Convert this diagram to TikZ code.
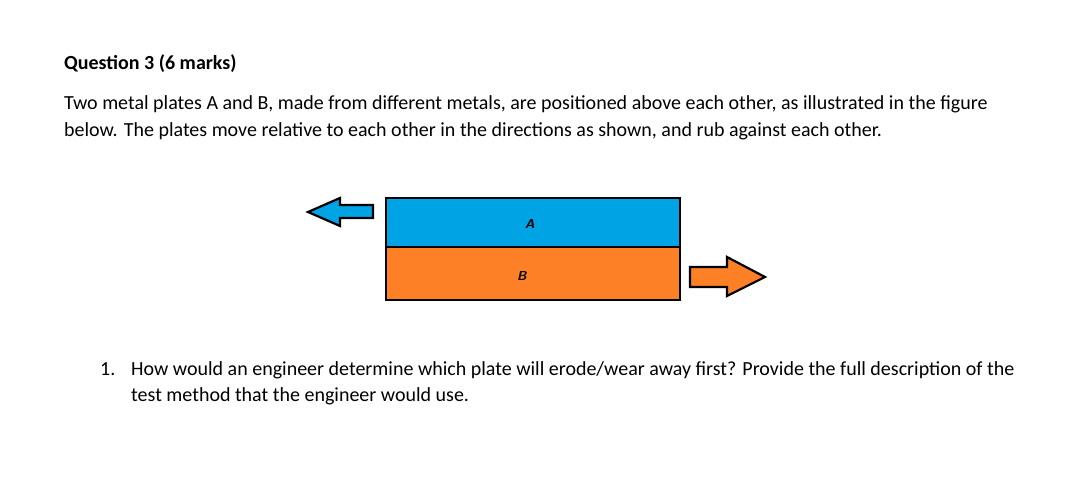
\documentclass[tikz,border=0pt]{standalone}
\usepackage{fontspec}
\setmainfont{Carlito}
\definecolor{plateA}{RGB}{0,163,228}
\definecolor{plateB}{RGB}{253,128,39}
\begin{document}
\begin{tikzpicture}[x=1pt,y=-1pt,
  txt/.style={anchor=base west,inner sep=0pt,font=\fontsize{20}{24}\selectfont},
  plate/.style={draw=black,line width=2.2pt},
  lbl/.style={font=\bfseries\itshape\sffamily\fontsize{13}{15}\selectfont}]
\useasboundingbox (0,0) rectangle (1080,478);
\node[txt,font=\bfseries\fontsize{20}{24}\selectfont] (title) at (64,70) {Question 3 (6 marks)};
\node[txt] (l1) at (64,110) {Two metal plates A and B, made from different metals, are positioned above each other, as illustrated in the figure};
\node[txt] (l2) at (64,137) {below. The plates move relative to each other in the directions as shown, and rub against each other.};
\draw[plate,fill=plateA] (386,198) rectangle (680,247);
\draw[plate,fill=plateB] (386,247) rectangle (680,300);
\node[lbl] (a) at (530,224) {A};
\node[lbl] (b) at (522,276) {B};
\draw[plate,fill=plateA,line join=miter] (373,205) -- (340,205) -- (340,198) -- (308,212) -- (340,226) -- (340,218) -- (373,218) -- cycle;
\draw[plate,fill=plateB,line join=miter] (690,267) -- (727,267) -- (727,257) -- (765,277) -- (727,296) -- (727,287) -- (690,287) -- cycle;
\node[txt] (n1) at (100,376) {1.};
\node[txt] (q1) at (131,376) {How would an engineer determine which plate will erode/wear away first? Provide the full description of the};
\node[txt] (q2) at (131,402) {test method that the engineer would use.};
\end{tikzpicture}
\end{document}
